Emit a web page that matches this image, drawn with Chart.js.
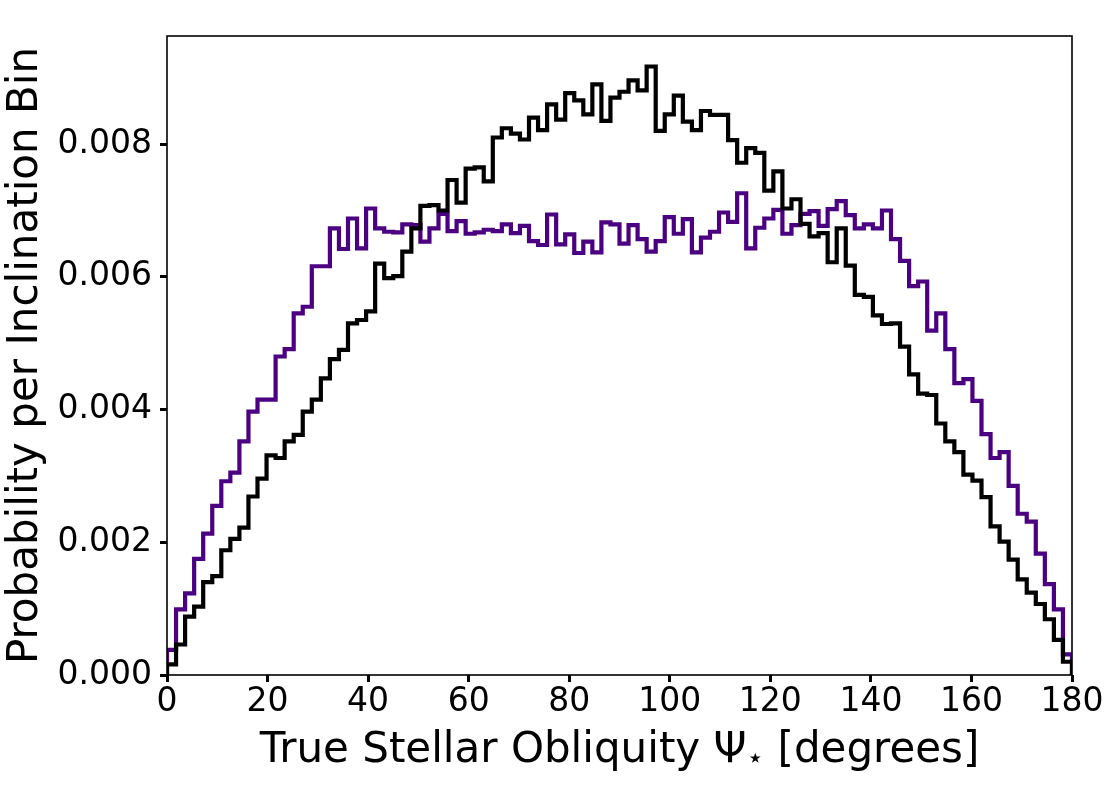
<!DOCTYPE html>
<html>
<head>
<meta charset="utf-8">
<script src="https://cdn.jsdelivr.net/npm/chart.js@4/dist/chart.umd.min.js"></script>
<style>
  body { margin: 0; background: #fff; }
  canvas { display: block; }
</style>
</head>
<body>
<canvas id="chart" width="1114" height="787"></canvas>
<script>
// 100 bins of 1.8 degrees between 0 and 180
const BIN_COUNT = 100;
const X_MIN = 0;
const X_MAX = 180;
const Y_MAX = 0.00963;

const X_TICKS = [0, 20, 40, 60, 80, 100, 120, 140, 160, 180];
const Y_TICKS = [0, 0.002, 0.004, 0.006, 0.008];

// black histogram (probability per bin)
const blackValues = [
  0.00016, 0.00046, 0.00088, 0.00103, 0.00140, 0.00149, 0.00188, 0.00205, 0.00222, 0.00269,
  0.00296, 0.00331, 0.00327, 0.00352, 0.00362, 0.00397, 0.00415, 0.00447, 0.00476, 0.00490,
  0.00530, 0.00535, 0.00548, 0.00620, 0.00598, 0.00601, 0.00638, 0.00673, 0.00707, 0.00708,
  0.00700, 0.00746, 0.00712, 0.00763, 0.00765, 0.00744, 0.00810, 0.00824, 0.00816, 0.00807,
  0.00840, 0.00821, 0.00860, 0.00837, 0.00877, 0.00866, 0.00845, 0.00890, 0.00835, 0.00870,
  0.00879, 0.00896, 0.00881, 0.00917, 0.00820, 0.00845, 0.00873, 0.00834, 0.00821, 0.00850,
  0.00844, 0.00844, 0.00806, 0.00772, 0.00794, 0.00787, 0.00730, 0.00759, 0.00703, 0.00717,
  0.00680, 0.00661, 0.00666, 0.00622, 0.00673, 0.00617, 0.00573, 0.00570, 0.00542, 0.00529,
  0.00530, 0.00495, 0.00453, 0.00424, 0.00422, 0.00379, 0.00352, 0.00336, 0.00302, 0.00293,
  0.00268, 0.00224, 0.00201, 0.00174, 0.00144, 0.00124, 0.00107, 0.00084, 0.00053, 0.00020
];

// purple histogram (probability per bin)
const purpleValues = [
  0.00038, 0.00099, 0.00123, 0.00175, 0.00213, 0.00255, 0.00292, 0.00305, 0.00352, 0.00397,
  0.00415, 0.00415, 0.00480, 0.00491, 0.00545, 0.00555, 0.00616, 0.00616, 0.00673, 0.00642,
  0.00688, 0.00643, 0.00703, 0.00673, 0.00668, 0.00667, 0.00679, 0.00678, 0.00653, 0.00673,
  0.00695, 0.00669, 0.00684, 0.00665, 0.00667, 0.00671, 0.00669, 0.00679, 0.00666, 0.00677,
  0.00654, 0.00648, 0.00694, 0.00649, 0.00664, 0.00636, 0.00653, 0.00637, 0.00682, 0.00679,
  0.00650, 0.00678, 0.00657, 0.00638, 0.00654, 0.00690, 0.00665, 0.00687, 0.00637, 0.00659,
  0.00668, 0.00697, 0.00683, 0.00726, 0.00643, 0.00674, 0.00688, 0.00701, 0.00665, 0.00678,
  0.00695, 0.00699, 0.00677, 0.00702, 0.00714, 0.00693, 0.00673, 0.00679, 0.00673, 0.00700,
  0.00657, 0.00624, 0.00586, 0.00593, 0.00519, 0.00545, 0.00491, 0.00440, 0.00446, 0.00413,
  0.00363, 0.00327, 0.00336, 0.00285, 0.00243, 0.00231, 0.00183, 0.00137, 0.00099, 0.00031
];

const BLACK = "#000000";
const PURPLE = "#4b0082";
const FONT = "DejaVu Sans";

function binEdge(i) {
  return X_MIN + (i * (X_MAX - X_MIN)) / BIN_COUNT;
}

// step outline like matplotlib histtype="step"
function stepPoints(values) {
  const pts = [{ x: X_MIN, y: 0 }];
  values.forEach((v, i) => pts.push({ x: binEdge(i), y: v }));
  pts.push({ x: X_MAX, y: values[values.length - 1] });
  pts.push({ x: X_MAX, y: 0 });
  return pts;
}

function setTicks(list) {
  return (scale) => {
    scale.ticks = list.map((v) => ({ value: v }));
  };
}

// box round the plot area
const framePlugin = {
  id: "frame",
  afterDraw(chart) {
    const a = chart.chartArea;
    const ctx = chart.ctx;
    ctx.save();
    ctx.strokeStyle = "#000";
    ctx.lineWidth = 1.6;
    ctx.strokeRect(a.left, a.top, a.right - a.left, a.bottom - a.top);
    ctx.restore();
  },
};

// x label with a subscript star
const xLabelPlugin = {
  id: "xlabel",
  afterDraw(chart) {
    const a = chart.chartArea;
    const ctx = chart.ctx;
    const main = "42px '" + FONT + "'";
    const sub = "28px '" + FONT + "'";
    const part1 = "True Stellar Obliquity \u03A8";
    const star = "\u22C6";
    const part2 = " [degrees]";
    ctx.save();
    ctx.fillStyle = "#000";
    ctx.textBaseline = "alphabetic";
    ctx.textAlign = "left";
    ctx.font = main;
    const w1 = ctx.measureText(part1).width;
    const w3 = ctx.measureText(part2).width;
    ctx.font = sub;
    const w2 = ctx.measureText(star).width;
    const baseY = 762;
    let x = (a.left + a.right) / 2 - (w1 + w2 + w3) / 2;
    ctx.font = main;
    ctx.fillText(part1, x, baseY);
    x += w1;
    ctx.font = sub;
    ctx.fillText(star, x, baseY + 5);
    x += w2;
    ctx.font = main;
    ctx.fillText(part2, x, baseY);
    ctx.restore();
  },
};

const ctx = document.getElementById("chart");

new Chart(ctx, {
  type: "line",
  data: {
    datasets: [
      {
        label: "black",
        data: stepPoints(blackValues),
        borderColor: BLACK,
        borderWidth: 4.2,
        stepped: "before",
        pointRadius: 0,
        fill: false,
        clip: 0,
        borderJoinStyle: "miter",
      },
      {
        label: "purple",
        data: stepPoints(purpleValues),
        borderColor: PURPLE,
        borderWidth: 4.2,
        stepped: "before",
        pointRadius: 0,
        fill: false,
        clip: 0,
        borderJoinStyle: "miter",
      },
    ],
  },
  options: {
    responsive: false,
    animation: false,
    devicePixelRatio: 1,
    layout: { padding: { top: 36, right: 42, left: 0, bottom: 0 } },
    plugins: {
      legend: { display: false },
      tooltip: { enabled: false },
    },
    scales: {
      x: {
        type: "linear",
        min: X_MIN,
        max: X_MAX,
        afterBuildTicks: setTicks(X_TICKS),
        afterFit: (s) => {
          s.height = 112;
        },
        border: { display: false },
        grid: {
          drawOnChartArea: false,
          tickLength: 7,
          tickWidth: 3,
          tickColor: "#000",
        },
        ticks: {
          color: "#000",
          font: { family: FONT, size: 33 },
          padding: 1,
          maxRotation: 0,
          autoSkip: false,
        },
      },
      y: {
        type: "linear",
        min: 0,
        max: Y_MAX,
        afterBuildTicks: setTicks(Y_TICKS),
        afterFit: (s) => {
          s.width = 167;
        },
        border: { display: false },
        grid: {
          drawOnChartArea: false,
          tickLength: 7,
          tickWidth: 3,
          tickColor: "#000",
        },
        ticks: {
          color: "#000",
          font: { family: FONT, size: 33 },
          padding: 8,
          callback: (v) => Number(v).toFixed(3),
        },
        title: {
          display: true,
          text: "Probability per Inclination Bin",
          color: "#000",
          font: { family: FONT, size: 42 },
          padding: { top: 1, bottom: 0 },
        },
      },
    },
  },
  plugins: [framePlugin, xLabelPlugin],
});
</script>
</body>
</html>
